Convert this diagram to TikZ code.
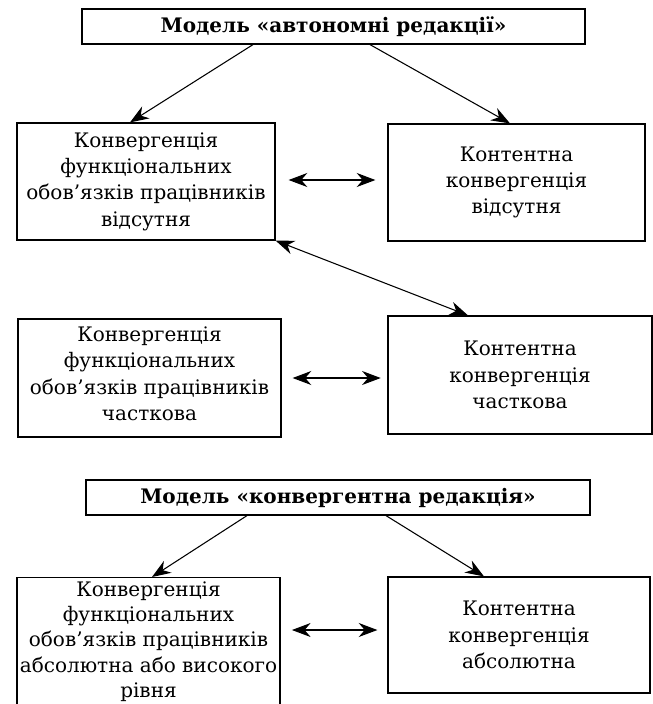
\documentclass[tikz,border=0pt]{standalone}
\usepackage{fontspec}
\setmainfont{DejaVu Serif}
\usetikzlibrary{arrows.meta,calc}
\tikzset{
  box/.style={draw, line width=0.9pt, align=center, inner sep=0pt,
    font=\fontsize{15}{19.7}\selectfont},
  titlebox/.style={box, font=\bfseries\fontsize{15}{19.7}\selectfont},
  link/.style={line width=0.8pt, -{Stealth[length=14pt,width=10.5pt,inset=4.5pt]}},
  dlink/.style={line width=0.8pt,
    {Stealth[length=14pt,width=10.5pt,inset=4.5pt]}-{Stealth[length=14pt,width=10.5pt,inset=4.5pt]}},
}
\begin{document}
\begin{tikzpicture}[x=0.75pt,y=-0.75pt]
\useasboundingbox (0,0) rectangle (653,704);
\clip (0,0) rectangle (653,704);
\fill[white] (0,0) rectangle (653,704);

\node[titlebox, minimum width=377.25pt, minimum height=26.25pt] (top1) at (333.5,26.5)
  {Модель «автономні редакції»};

\node[box, minimum width=193.5pt, minimum height=87.75pt] (L1) at (146,181.5)
  {Конвергенція\\функціональних\\обов’язків працівників\\відсутня};
\node[box, minimum width=192.75pt, minimum height=87.75pt] (R1) at (516.5,182.5)
  {Контентна\\конвергенція\\відсутня};

\node[box, minimum width=197.25pt, minimum height=88.5pt] (L2) at (149.5,378)
  {Конвергенція\\функціональних\\обов’язків працівників\\часткова\\[-13pt]\mbox{}};
\node[box, minimum width=198pt, minimum height=88.5pt] (R2) at (520,375)
  {Контентна\\конвергенція\\часткова};

\node[titlebox, minimum width=378pt, minimum height=26.25pt] (top2) at (338,497.5)
  {Модель «конвергентна редакція»};

\node[box, anchor=north, minimum width=197.25pt, inner ysep=2.8pt,
  font=\fontsize{15}{19}\selectfont] (L3) at (148.5,577)
  {Конвергенція\\функціональних\\обов’язків працівників\\абсолютна або високого\\рівня\\[6pt]\mbox{}};
\node[box, minimum width=196.5pt, minimum height=87pt] (R3) at (519,635)
  {Контентна\\конвергенція\\абсолютна};

% arrows from the model boxes
\draw[link] ($(top1.south)+(-80.5,0)$) -- ($(L1.north)+(-16,0)$);
\draw[link] ($(top1.south)+(36.5,0)$) -- ($(R1.north)+(-6.5,0)$);
\draw[link] ($(top2.south)+(-91,0)$) -- ($(L3.north)+(3.5,0)$);
\draw[link] ($(top2.south)+(48,0)$) -- ($(R3.north)+(-35,0)$);

% two-way arrows
\draw[dlink, shorten <=9.75pt, shorten >=9pt] ($(L1.east)+(0,-1.5)$) -- ($(L1.east -| R1.west)+(0,-1.5)$);
\draw[dlink] (L1.south east) -- ($(R2.north)+(-52,0)$);
\draw[dlink, shorten <=8.25pt, shorten >=5pt] (L2.east) -- (L2.east -| R2.west);
\draw[dlink, shorten <=8.5pt, shorten >=7.5pt] ($(R3.west -| L3.east)+(0,-5)$) -- ($(R3.west)+(0,-5)$);
\end{tikzpicture}
\end{document}
